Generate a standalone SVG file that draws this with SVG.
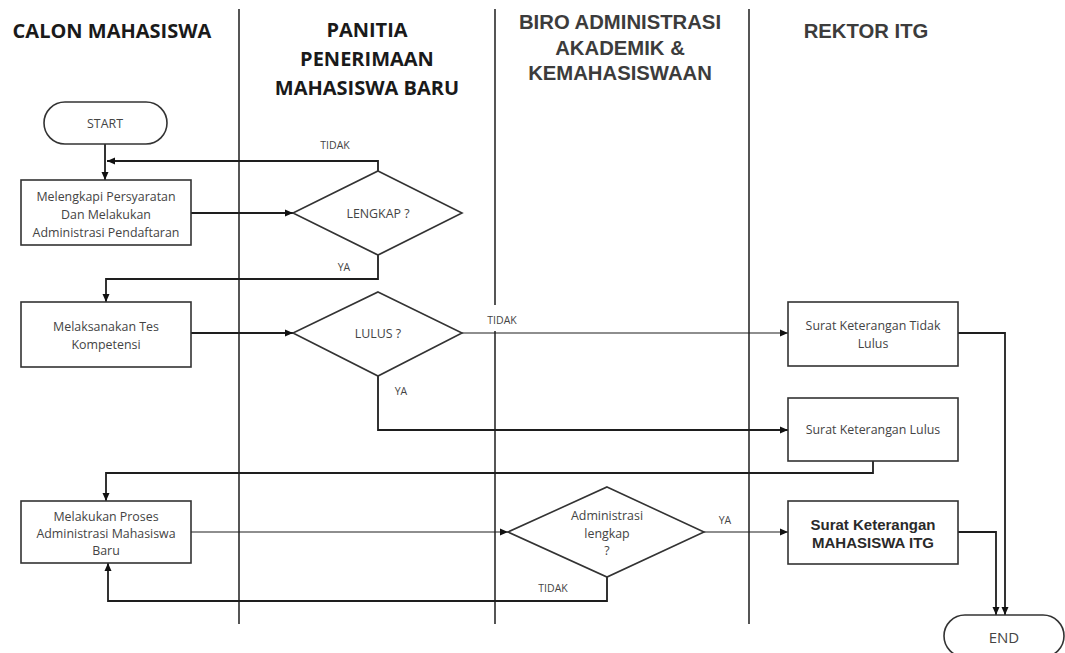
<svg xmlns="http://www.w3.org/2000/svg" width="1065" height="653" viewBox="0 0 1065 653">
<style>
.lane{stroke:#2b2b2b;stroke-width:1.6;fill:none}
.box{fill:#fff;stroke:#333;stroke-width:1.6}
.conn{fill:none;stroke:#1e1e1e;stroke-width:1.8}
.thin{stroke-width:1.2}
.t{font-family:"Open Sans","Noto Sans",sans-serif;font-size:12.4px;fill:#444;text-anchor:middle;dominant-baseline:central}
.lbl{font-family:"Open Sans","Noto Sans",sans-serif;font-size:10.5px;fill:#444;text-anchor:middle;dominant-baseline:central}
.h1{font-family:"Open Sans","Noto Sans",sans-serif;font-size:20px;font-weight:bold;fill:#1a1a1a;text-anchor:middle;dominant-baseline:central}
.h2{font-family:"Liberation Sans",Arial,sans-serif;font-size:20.3px;font-weight:bold;fill:#3c3c3c;text-anchor:middle;dominant-baseline:central}
.b{font-family:"Liberation Sans",Arial,sans-serif;font-size:15px;font-weight:bold;fill:#2a2a2a;text-anchor:middle;dominant-baseline:central}
</style>
<defs>
<marker id="arr" viewBox="0 0 8 8" refX="8" refY="4" markerWidth="8" markerHeight="8" markerUnits="userSpaceOnUse" orient="auto">
<path d="M0,0.5 L8,4 L0,7.5 z" fill="#111"/>
</marker>
</defs>
<rect width="1065" height="653" fill="#fff"/>

<g id="lanes">
<line class="lane" x1="239" y1="9" x2="239" y2="624"/>
<line class="lane" x1="495" y1="9" x2="495" y2="624"/>
<line class="lane" x1="749" y1="9" x2="749" y2="624"/>
<text class="h1" x="112" y="30">CALON MAHASISWA</text>
<text class="h1" x="367" y="29">PANITIA</text>
<text class="h1" x="367" y="58">PENERIMAAN</text>
<text class="h1" x="367" y="87">MAHASISWA BARU</text>
<text class="h2" x="620" y="22">BIRO ADMINISTRASI</text>
<text class="h2" x="620" y="48">AKADEMIK &amp;</text>
<text class="h2" x="620" y="73">KEMAHASISWAAN</text>
<text class="h2" x="866" y="31">REKTOR ITG</text>
</g>

<g id="connectors">
<path class="conn" d="M105,144 V180" marker-end="url(#arr)"/>
<path class="conn" d="M191,213 H293" marker-end="url(#arr)"/>
<path class="conn" d="M378,171 V161 H107" marker-end="url(#arr)"/>
<path class="conn" d="M378,255 V279 H106 V302" marker-end="url(#arr)"/>
<path class="conn" d="M191,333 H293" marker-end="url(#arr)"/>
<rect x="470" y="305" width="70" height="26" fill="#fff"/>
<path class="conn thin" d="M462,333 H788" marker-end="url(#arr)"/>
<path class="conn" d="M378,376 V430 H788" marker-end="url(#arr)"/>
<path class="conn" d="M873,461 V473 H106 V501" marker-end="url(#arr)"/>
<path class="conn thin" d="M191,532 H508" marker-end="url(#arr)"/>
<path class="conn thin" d="M704,532 H788" marker-end="url(#arr)"/>
<path class="conn" d="M607,577 V601 H108 V563" marker-end="url(#arr)"/>
<path class="conn" d="M958,532 H996 V615" marker-end="url(#arr)"/>
<path class="conn" d="M958,333 H1005 V615" marker-end="url(#arr)"/>
<text class="lbl" x="335" y="145">TIDAK</text>
<text class="lbl" x="344" y="267">YA</text>
<text class="lbl" x="502" y="320">TIDAK</text>
<text class="lbl" x="401" y="391">YA</text>
<text class="lbl" x="725" y="520">YA</text>
<text class="lbl" x="553" y="588">TIDAK</text>
</g>

<g id="start">
<rect class="box" x="44" y="102" width="123" height="42" rx="21"/>
<text class="t" x="105" y="123">START</text>
</g>

<g id="melengkapi">
<rect class="box" x="21" y="180" width="170" height="65"/>
<text class="t" x="106" y="196">Melengkapi Persyaratan</text>
<text class="t" x="106" y="214">Dan Melakukan</text>
<text class="t" x="106" y="232">Administrasi Pendaftaran</text>
</g>

<g id="lengkap">
<polygon class="box" points="378,171 462,213 378,255 293,213"/>
<text class="t" x="378" y="213">LENGKAP ?</text>
</g>

<g id="tes">
<rect class="box" x="21" y="302" width="170" height="65"/>
<text class="t" x="106" y="326">Melaksanakan Tes</text>
<text class="t" x="106" y="344">Kompetensi</text>
</g>

<g id="lulus">
<polygon class="box" points="378,292 462,333 378,376 293,333"/>
<text class="t" x="378" y="333">LULUS ?</text>
</g>

<g id="tidaklulus">
<rect class="box" x="788" y="302" width="170" height="64"/>
<text class="t" x="873" y="325">Surat Keterangan Tidak</text>
<text class="t" x="873" y="343">Lulus</text>
</g>

<g id="suratlulus">
<rect class="box" x="788" y="398" width="170" height="63"/>
<text class="t" x="873" y="429">Surat Keterangan Lulus</text>
</g>

<g id="proses">
<rect class="box" x="21" y="501" width="170" height="62"/>
<text class="t" x="106" y="516">Melakukan Proses</text>
<text class="t" x="106" y="533">Administrasi Mahasiswa</text>
<text class="t" x="106" y="550">Baru</text>
</g>

<g id="adminlengkap">
<polygon class="box" points="607,487 704,532 607,577 508,532"/>
<text class="t" x="607" y="515">Administrasi</text>
<text class="t" x="607" y="533">lengkap</text>
<text class="t" x="607" y="550">?</text>
</g>

<g id="mahasiswaitg">
<rect class="box" x="788" y="501" width="170" height="63"/>
<text class="b" x="873" y="524">Surat Keterangan</text>
<text class="b" x="873" y="542">MAHASISWA ITG</text>
</g>

<g id="end">
<rect class="box" x="944" y="615" width="120" height="42" rx="21"/>
<text class="t" x="1004" y="637" style="font-size:15px">END</text>
</g>
</svg>
